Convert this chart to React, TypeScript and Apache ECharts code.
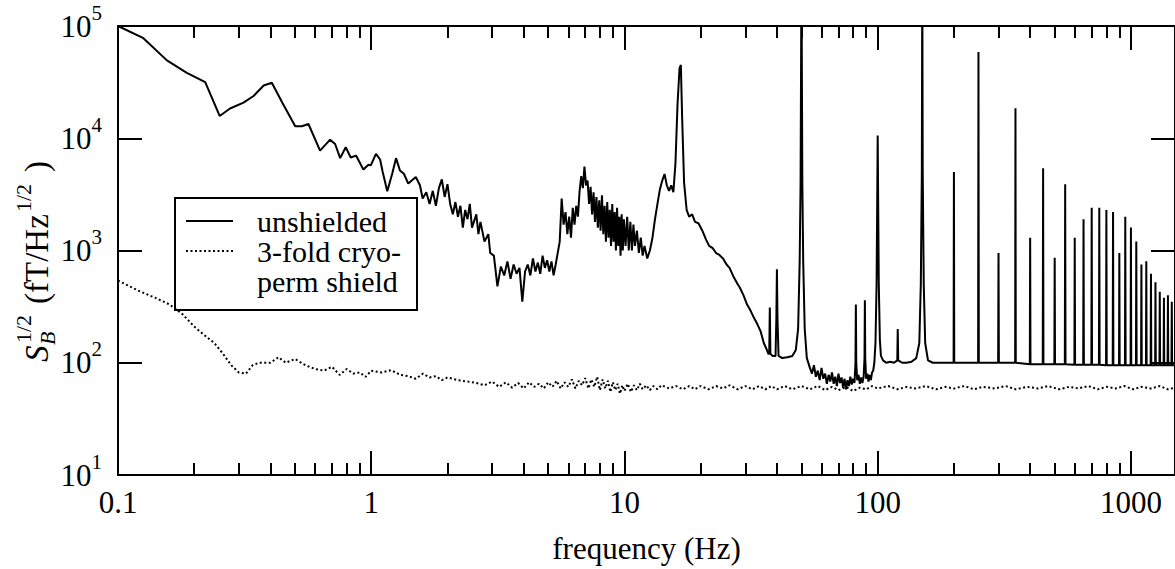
import { useEffect, useRef } from "react";
import * as echarts from "echarts";

const FONT = "Liberation Serif, Times New Roman, serif";

// frequency (Hz), amplitude (fT/Hz^1/2) — unshielded
const unshieldedLow: [number, number][] = [
  [0.1, 100000], [0.126, 77900], [0.156, 49400], [0.187, 38200], [0.221, 31600],
  [0.252, 15800], [0.277, 18400], [0.313, 20800], [0.343, 23800], [0.376, 29500],
  [0.405, 31200], [0.444, 21000], [0.501, 12800], [0.532, 12800], [0.565, 13400],
  [0.628, 7760], [0.688, 9710], [0.72, 8890], [0.754, 6650], [0.793, 8320],
  [0.83, 6730], [0.871, 7010], [0.931, 5270], [0.975, 5810], [0.996, 5730],
  [1.044, 7260], [1.084, 6470], [1.11, 5000], [1.157, 3370], [1.21, 4830],
  [1.253, 6650], [1.298, 5170], [1.346, 4830], [1.4, 3950], [1.5, 4520],
  [1.557, 3810], [1.596, 2910],
];

const unshieldedMid: [number, number][] = [
  [1.65, 3300], [1.7, 2600], [1.75, 3400], [1.8, 2500], [1.85, 3600], [1.9, 4300],
  [1.95, 3000], [2.0, 3900], [2.05, 2600], [2.1, 2100], [2.15, 2700], [2.2, 2000],
  [2.25, 2500], [2.3, 1600], [2.35, 2300], [2.4, 1900], [2.45, 2600], [2.5, 1600],
  [2.6, 2100], [2.65, 1400], [2.7, 1800], [2.8, 1200], [2.9, 1400], [2.95, 950],
  [3.05, 900], [3.15, 480], [3.25, 720], [3.35, 600], [3.45, 800], [3.55, 560],
  [3.65, 750], [3.75, 620], [3.85, 700], [3.95, 350], [4.05, 650], [4.15, 750],
  [4.25, 600], [4.35, 850], [4.45, 650], [4.55, 780], [4.65, 620], [4.75, 900],
  [4.85, 700], [4.95, 820], [5.05, 650], [5.15, 800], [5.25, 600], [5.35, 750],
  [5.45, 950], [5.55, 1200], [5.65, 2900], [5.75, 1700], [5.85, 2200], [5.95, 1400],
  [6.05, 2000], [6.15, 1300], [6.25, 2400], [6.35, 1700], [6.45, 2500], [6.55, 2000],
  [6.65, 3400], [6.75, 4600], [6.85, 3600], [6.95, 5600], [7.05, 3800], [7.15, 4200],
  [7.25, 2600], [7.35, 3700], [7.45, 2100], [7.55, 3300], [7.65, 1800], [7.75, 3000],
  [7.85, 1600], [7.95, 2800], [8.05, 1500], [8.15, 3100], [8.25, 1400], [8.35, 2500],
  [8.45, 1200], [8.55, 2700], [8.65, 1300], [8.75, 2300], [8.85, 1100], [8.95, 2600],
  [9.05, 1200], [9.15, 2200], [9.25, 1000], [9.35, 2400], [9.45, 1100], [9.55, 2000],
  [9.65, 900], [9.75, 2100], [9.85, 1000], [9.95, 1900], [10.1, 1100], [10.25, 2000],
  [10.4, 1000], [10.55, 1800], [10.7, 1000], [10.85, 1700], [11.0, 1100], [11.2, 1500],
  [11.4, 950], [11.6, 1300], [11.8, 900], [12.0, 1100], [12.3, 850], [12.6, 1000],
  [12.9, 1300], [13.2, 1900], [13.5, 2600], [13.8, 3500], [14.1, 4200], [14.4, 4800],
  [14.7, 3800], [15.0, 3400], [15.3, 3800], [15.6, 3300], [15.9, 6000], [16.2, 20000],
  [16.5, 42000], [16.7, 45000], [16.9, 15000], [17.2, 4000], [17.6, 2300], [18.0, 2000],
  [18.5, 2100], [19.0, 1800], [19.6, 1750], [20.3, 1500], [21.0, 1250], [21.6, 1100],
  [22.3, 1050], [23.0, 950], [23.6, 920], [24.5, 850], [25.3, 750], [26.0, 700],
  [27.0, 580], [28.0, 500], [28.5, 470], [29.5, 400], [30.5, 330], [31.5, 290],
  [32.5, 250], [33.5, 220], [34.5, 190], [35.5, 150], [36.5, 130], [37.0, 120],
];

const unshieldedLow50: [number, number][] = [
  [37.3, 120], [37.5, 310], [37.7, 120], [38.5, 115], [39.5, 115], [39.8, 250],
  [40, 680], [40.2, 250], [40.6, 115], [42, 110], [44, 112], [46, 115], [47.5, 130],
  [48.5, 200], [49.2, 800], [49.6, 4000], [50, 300000], [50.4, 4000], [50.8, 800],
  [51.5, 200], [52.5, 110], [54, 90], [55, 80], [56, 95], [57, 75], [58, 85], [59, 70],
  [60, 90], [61, 72], [62, 80], [63, 65], [64, 78], [65, 68], [66, 82], [67, 65],
  [68, 75], [69, 62], [70, 80], [71, 66], [72, 74], [73, 60], [74, 72], [75, 58],
  [76, 70], [77, 62], [78, 75], [79, 64], [80, 72], [81, 66], [81.7, 100], [82, 330],
  [82.3, 100], [83, 70], [84, 78], [85, 65], [86, 74], [87, 66], [88, 75], [88.7, 110],
  [89, 360], [89.3, 110], [90, 72], [91, 80], [92, 68], [93, 78], [94, 70], [95, 82],
  [96, 85], [97, 100], [98, 150], [99, 500], [99.6, 3000], [100, 10600], [100.4, 3000],
  [101, 500], [102, 160], [103, 115], [105, 105], [108, 100], [112, 102], [116, 100],
  [119.5, 105], [120, 200], [120.5, 105], [125, 100], [130, 100], [136, 102], [142, 110],
  [146, 150], [148, 500], [149.4, 5000], [150, 300000], [150.6, 5000], [152, 500],
  [154, 150], [158, 105], [165, 100], [175, 100], [185, 100], [195, 100],
];

const unshieldedHarmonics: [number, number][] = [
  [199.4, 100], [200, 5000], [200.6, 100], [249.2, 100], [250, 58600], [250.8, 100],
  [299, 100], [300, 950], [301, 100], [349, 100], [350, 18500], [351, 100],
  [398.8, 97], [400, 1300], [401.2, 97], [448.6, 97], [450, 5400], [451.4, 97],
  [498.5, 97], [500, 860], [501.5, 97], [548.3, 97], [550, 3900], [551.7, 97],
  [598.2, 96], [600, 1300], [601.8, 96], [648, 96], [650, 1900], [652, 96],
  [697.9, 96], [700, 2400], [702.1, 96], [747.7, 96], [750, 2400], [752.3, 96],
  [797.6, 95], [800, 2300], [802.4, 95], [847.4, 95], [850, 2200], [852.6, 95],
  [897.3, 95], [900, 950], [902.7, 95], [947.1, 95], [950, 2000], [952.9, 95],
  [997, 95], [1000, 1600], [1003, 95], [1046.8, 95], [1050, 1200], [1053.2, 95],
  [1096.7, 95], [1100, 750], [1103.3, 95], [1146.5, 95], [1150, 800], [1153.5, 95],
  [1196.4, 95], [1200, 620], [1203.6, 95], [1246.3, 95], [1250, 520], [1253.7, 95],
  [1296.1, 95], [1300, 430], [1303.9, 95], [1346, 95], [1350, 380], [1354, 95],
  [1395.8, 95], [1400, 400], [1404.2, 95], [1445.7, 95], [1450, 350], [1454.3, 95],
  [1500, 95],
];

// 3-fold cryoperm shield
const shieldedLow: [number, number][] = [
  [0.1, 540], [0.12, 440], [0.14, 380], [0.16, 330], [0.18, 270], [0.2, 210],
  [0.22, 175], [0.24, 150], [0.26, 120], [0.28, 95], [0.3, 82], [0.32, 80],
  [0.34, 95], [0.36, 100], [0.4, 100], [0.43, 112], [0.46, 100], [0.5, 108],
  [0.55, 95], [0.6, 88], [0.65, 85], [0.7, 92], [0.75, 78], [0.8, 88], [0.85, 80],
  [0.9, 82], [0.95, 75], [1.0, 85], [1.1, 82], [1.2, 86], [1.3, 78], [1.4, 76],
  [1.5, 72], [1.6, 80], [1.7, 74], [1.8, 76], [1.9, 70], [2.0, 74], [2.2, 70],
  [2.4, 68], [2.6, 66], [2.8, 63], [3.0, 68],
];

const shieldedHigh: [number, number][] = [
  [3.2, 61], [3.4, 67], [3.6, 60], [3.8, 66], [4.0, 59], [4.2, 67], [4.4, 61],
  [4.6, 65], [4.8, 59], [5.0, 67], [5.2, 61], [5.4, 69], [5.6, 59], [5.8, 67],
  [6.0, 61], [6.2, 71], [6.4, 59], [6.6, 69], [6.8, 63], [7.0, 73], [7.2, 59],
  [7.4, 71], [7.6, 61], [7.8, 75], [8.0, 57], [8.2, 71], [8.4, 59], [8.6, 69],
  [8.8, 55], [9.0, 67], [9.2, 57], [9.4, 65], [9.6, 53], [9.8, 63], [10.0, 56],
  [10.3, 65], [10.6, 55], [10.9, 63], [11.2, 57], [11.5, 65], [11.8, 58], [12.2, 63],
  [12.6, 57], [13, 62], [13.5, 58], [14, 63], [15, 59], [16, 62], [17, 58], [18, 62],
  [19, 58], [20, 62], [21.5, 58], [23, 62], [24.5, 59], [26, 63], [28, 58], [30, 62],
  [32, 58], [34, 62], [36, 58], [38, 62], [40, 58], [43, 62], [46, 58], [50, 62],
  [54, 58], [58, 62], [62, 57], [66, 61], [70, 57], [75, 61], [80, 56], [85, 60],
  [90, 58], [95, 62], [100, 59], [110, 62], [120, 58], [130, 61], [140, 59], [155, 62],
  [170, 58], [185, 61], [200, 59], [220, 62], [240, 58], [260, 61], [290, 59],
  [320, 62], [350, 58], [390, 61], [430, 59], [470, 62], [520, 58], [570, 61],
  [620, 59], [680, 62], [740, 58], [800, 61], [870, 59], [940, 62], [1020, 58],
  [1100, 61], [1200, 59], [1300, 62], [1400, 58], [1500, 60],
];

const seriesNames = ["unshielded", "3-fold cryo-\nperm shield"];
const legendLines = ["unshielded", "3-fold cryo-", "perm shield"];
const xMin = 0.1;
const xMax = 1493;
const yMin = 10;
const yMax = 100000;

export default function App() {
  const ref = useRef<HTMLDivElement>(null);
  useEffect(() => {
    if (!ref.current) return;
    const chart = echarts.init(ref.current, null, { renderer: "svg" });
    const axisLine = { show: true, lineStyle: { color: "#000", width: 2 } };
    const tickStyle = { color: "#000", width: 2 };
    const unshielded = [...unshieldedLow, ...unshieldedMid, ...unshieldedLow50, ...unshieldedHarmonics];
    const shielded = [...shieldedLow, ...shieldedHigh];
    chart.setOption({
      animation: false,
      backgroundColor: "#fff",
      textStyle: { fontFamily: FONT },
      grid: { left: 118, top: 26, right: -2, bottom: 90, containLabel: false },
      xAxis: [
        {
          type: "log", logBase: 10, min: xMin, max: xMax, position: "bottom",
          axisLine, splitLine: { show: false },
          axisTick: { inside: true, length: 24, lineStyle: tickStyle },
          minorTick: { show: true, splitNumber: 9, length: 12, lineStyle: tickStyle },
          axisLabel: {
            margin: 12, fontSize: 31, color: "#000", fontFamily: FONT,
            showMaxLabel: false,
            formatter: (v: number) => String(+v.toPrecision(3)),
          },
          name: "frequency (Hz)", nameLocation: "middle", nameGap: 58,
          nameTextStyle: { fontSize: 31, color: "#000", fontFamily: FONT },
        },
        {
          type: "log", logBase: 10, min: xMin, max: xMax, position: "top",
          axisLine, splitLine: { show: false },
          axisTick: { inside: true, length: 24, lineStyle: tickStyle },
          minorTick: { show: true, splitNumber: 9, length: 12, lineStyle: tickStyle },
          axisLabel: { show: false },
        },
      ],
      yAxis: [
        {
          type: "log", logBase: 10, min: yMin, max: yMax, position: "left",
          axisLine, splitLine: { show: false },
          axisTick: { inside: true, length: 24, lineStyle: tickStyle },
          minorTick: { show: false },
          axisLabel: {
            margin: 16, color: "#000", fontFamily: FONT,
            formatter: (v: number) => `{b|10}{s|${Math.round(Math.log10(v))}}`,
            rich: {
              b: { fontSize: 31, fontFamily: FONT, color: "#000", lineHeight: 48 },
              s: { fontSize: 21, fontFamily: FONT, color: "#000", verticalAlign: "top", lineHeight: 20 },
            },
          },
        },
        {
          type: "log", logBase: 10, min: yMin, max: yMax, position: "right",
          axisLine, splitLine: { show: false },
          axisTick: { inside: true, length: 24, lineStyle: tickStyle },
          axisLabel: { show: false },
        },
      ],
      series: [
        {
          name: seriesNames[0], type: "line", data: unshielded, showSymbol: false,
          symbol: "none", clip: true,
          lineStyle: { color: "#000", width: 2 },
        },
        {
          name: seriesNames[1], type: "line", data: shielded, showSymbol: false,
          symbol: "none", clip: true,
          lineStyle: { color: "#000", width: 2, type: [2, 2.5] },
        },
      ],
      graphic: [
        {
          type: "group", x: 37, y: 362, rotation: Math.PI / 2,
          children: [
            { type: "text", x: 0, y: 0, style: { text: "S", font: `italic 33px ${FONT}`, fill: "#000", verticalAlign: "middle" } },
            { type: "text", x: 17, y: 10, style: { text: "B", font: `italic 22px ${FONT}`, fill: "#000", verticalAlign: "middle" } },
            { type: "text", x: 19, y: -14, style: { text: "1/2", font: `22px ${FONT}`, fill: "#000", verticalAlign: "middle" } },
            { type: "text", x: 58, y: 0, style: { text: "(fT/Hz", font: `33px ${FONT}`, fill: "#000", verticalAlign: "middle" } },
            { type: "text", x: 150, y: -14, style: { text: "1/2", font: `22px ${FONT}`, fill: "#000", verticalAlign: "middle" } },
            { type: "text", x: 190, y: 0, style: { text: ")", font: `33px ${FONT}`, fill: "#000", verticalAlign: "middle" } },
          ],
        },
        {
          type: "group", x: 175, y: 198,
          children: [
            { type: "rect", shape: { x: 0, y: 0, width: 242, height: 112 }, style: { fill: "#fff", stroke: "#000", lineWidth: 2 } },
            { type: "line", shape: { x1: 11, y1: 23, x2: 58, y2: 23 }, style: { stroke: "#000", lineWidth: 2 } },
            { type: "line", shape: { x1: 11, y1: 53, x2: 58, y2: 53 }, style: { stroke: "#000", lineWidth: 2, lineDash: [2, 2.5] } },
            { type: "text", x: 82, y: 23, style: { text: legendLines[0], font: `30px ${FONT}`, fill: "#000", verticalAlign: "middle" } },
            { type: "text", x: 82, y: 53, style: { text: legendLines[1], font: `30px ${FONT}`, fill: "#000", verticalAlign: "middle" } },
            { type: "text", x: 82, y: 83, style: { text: legendLines[2], font: `30px ${FONT}`, fill: "#000", verticalAlign: "middle" } },
          ],
        },
      ],
    });
    return () => chart.dispose();
  }, []);
  return <div ref={ref} style={{ position: "fixed", left: 0, top: 0, width: 1175, height: 569 }} />;
}
